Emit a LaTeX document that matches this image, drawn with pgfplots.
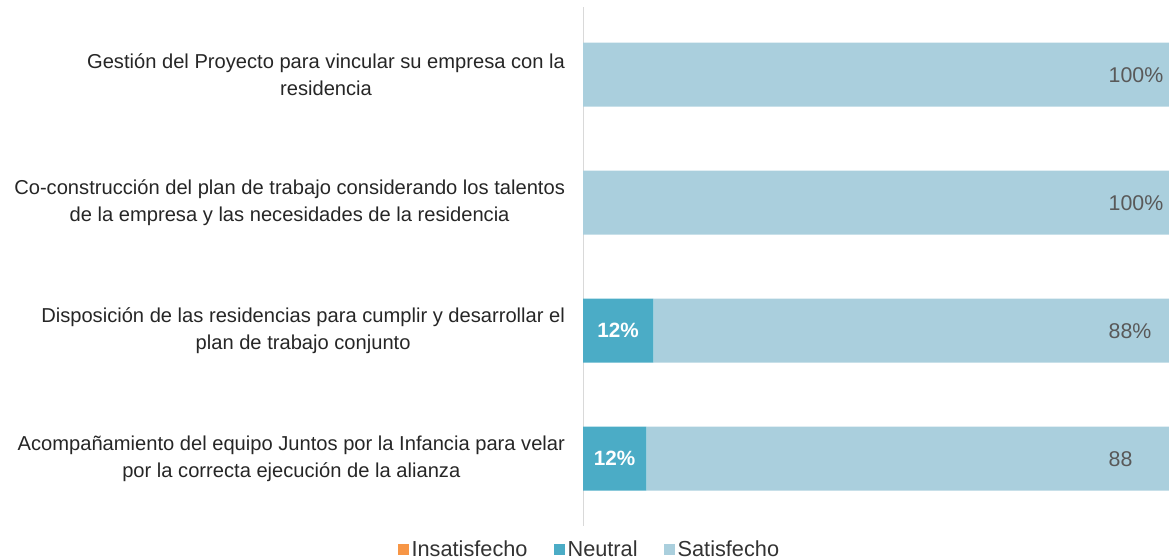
\documentclass[border=0pt]{standalone}
\usepackage{pgfplots}
\pgfplotsset{compat=1.18}
\usepackage{fontspec}
\setmainfont{Liberation Sans}
\definecolor{cIns}{HTML}{F79646}
\definecolor{cNeu}{HTML}{4BACC6}
\definecolor{cSat}{HTML}{AACFDD}
\definecolor{cLab}{HTML}{595959}
\definecolor{cAx}{HTML}{D9D9D9}
\begin{document}
\begin{tikzpicture}
\useasboundingbox (0,0) rectangle (876.75pt,-419.25pt);
\begin{axis}[
  at={(437.25pt,-8pt)}, anchor=north west,
  scale only axis, width=439.5pt, height=384pt,
  xbar stacked, bar width=0.5,
  xmin=0, xmax=100, ymin=-0.5, ymax=3.5, y dir=reverse,
  enlargelimits=false,
  axis x line=none, axis y line*=left,
  y axis line style={cAx, line width=0.75pt, -, shorten <=-2.5pt, shorten >=-2.5pt},
  ytick={0,1,2,3}, major tick length=0,
  yticklabels={
    {Gestión del Proyecto para vincular su empresa con la\\residencia},
    {Co-construcción del plan de trabajo considerando los talentos\\de la empresa y las necesidades de la residencia},
    {Disposición de las residencias para cumplir y desarrollar el\\plan de trabajo conjunto},
    {Acompañamiento del equipo Juntos por la Infancia para velar\\por la correcta ejecución de la alianza}},
  yticklabel style={align=center, font=\fontsize{15.1}{20.5}\selectfont, text=black!85, xshift=-10pt},
  legend style={at={(0.012,-0.053)}, anchor=center, draw=none, legend columns=-1,
    font=\fontsize{16.3}{19}\selectfont, text=black!80,
    /tikz/every even column/.append style={column sep=18pt}},
  legend image code/.code={\fill[#1] (0pt,-4pt) rectangle (8pt,4pt);},
]
\addplot[fill=cIns, draw=none] coordinates {(0,0) (0,1) (0,2) (0,3)};
\addlegendentry{Insatisfecho}
\addplot[fill=cNeu, draw=none, point meta=explicit symbolic, nodes near coords,
  every node near coord/.append style={anchor=center, text=white,
  font=\fontsize{15.5}{18}\selectfont\bfseries}]
  coordinates {(0,0) [] (0,1) [] (12,2) [12\%] (10.8,3) [12\%]};
\addlegendentry{Neutral}
\addplot[fill=cSat, draw=none, point meta=explicit symbolic, nodes near coords,
  visualization depends on=rawx \as \rawx,
  every node near coord/.append style={anchor=west, xshift={(\rawx/2-11.1)*4.395pt}, text=cLab,
  font=\fontsize{16}{18}\selectfont}]
  coordinates {(100,0) [100\%] (100,1) [100\%] (88,2) [88\%] (89.2,3) [88]};
\addlegendentry{Satisfecho}
\end{axis}
\end{tikzpicture}
\end{document}
